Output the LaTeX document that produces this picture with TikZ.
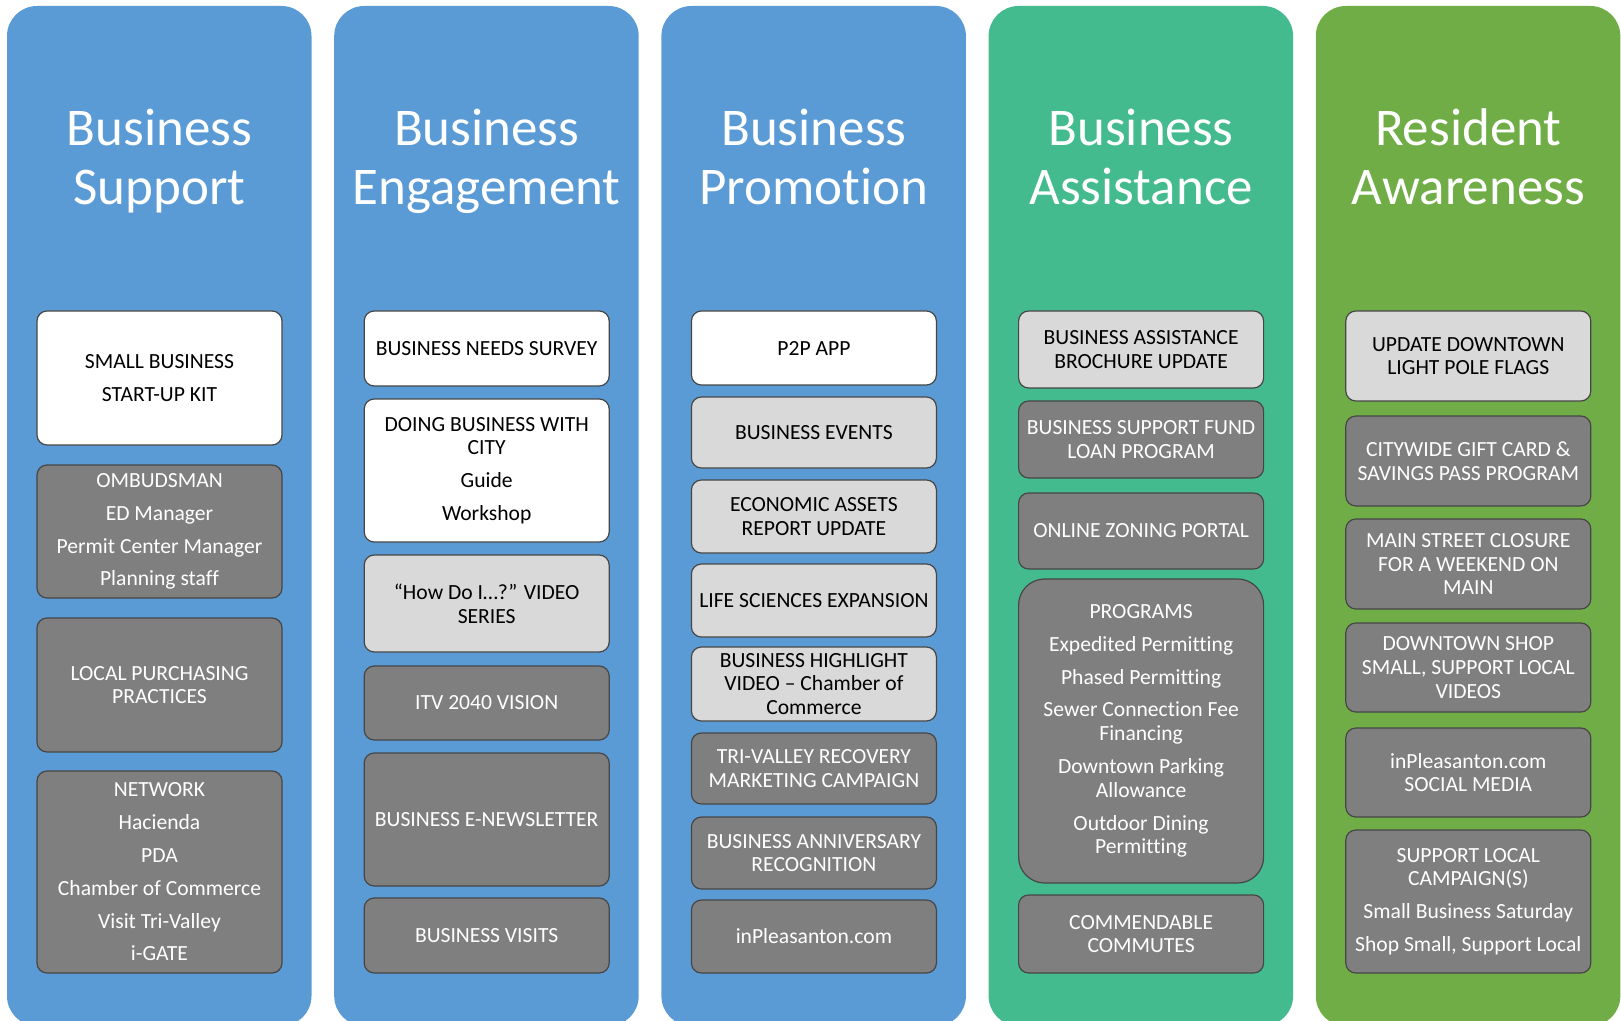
\documentclass[tikz,border=0pt]{standalone}
\usepackage{fontspec}
\setmainfont{Carlito}[Ligatures={NoCommon}]

\definecolor{panelblue}{RGB}{91,155,213}
\definecolor{panelteal}{RGB}{68,187,142}
\definecolor{panelgreen}{RGB}{112,173,71}
\definecolor{boxdark}{RGB}{127,127,127}
\definecolor{boxlight}{RGB}{217,217,217}
\definecolor{boxline}{RGB}{70,70,70}

\tikzset{every node/.style={font=\fontsize{10.8}{11.9}\selectfont,align=center,inner sep=0pt},
  panel/.style={rounded corners=15pt},
  heading/.style={text=white,font=\fontsize{26.5}{29.5}\selectfont},
  itembox/.style={draw=boxline,line width=0.6pt,rounded corners=5pt,minimum width=122.5pt},
  whitebox/.style={itembox,fill=white,text=black},
  lightbox/.style={itembox,fill=boxlight,text=black},
  darkbox/.style={itembox,fill=boxdark,text=white},
  roundbox/.style={darkbox,rounded corners=13pt}}

\begin{document}
\begin{tikzpicture}[x=0.5pt,y=-0.5pt]
    \useasboundingbox (0,0) rectangle (1621,1021);
    \clip (0,0) rectangle (1621,1021);
    % five columns
    \foreach \c/\col/\wa/\wb in {1/panelblue/Business/Support,2/panelblue/Business/Engagement,
        3/panelblue/Business/Promotion,4/panelteal/Business/Assistance,5/panelgreen/Resident/Awareness}{
    	     \fill[\col,panel] ({7+327.2*(\c-1)},6) rectangle +(304.5,1020);
    	     \node[heading] (head\c) at ({159.5+327.2*(\c-1)},163) {\strut\wa\\\wb\strut};
    }
    % Business Support
    \foreach \n/\ya/\yb/\kind/\txt in {1/311/445/whitebox/{SMALL BUSINESS\\[4.5pt]START-UP KIT},
        2/465/598/darkbox/{OMBUDSMAN\\[4.5pt]ED Manager\\[4.5pt]Permit Center Manager\\[4.5pt]Planning staff},
        3/618/752/darkbox/{LOCAL PURCHASING\\PRACTICES},
        4/771/973/darkbox/{NETWORK\\[4.5pt]Hacienda\\[4.5pt]PDA\\[4.5pt]Chamber of Commerce\\[4.5pt]Visit Tri-Valley\\[4.5pt]i-GATE}}{
    	     \node[\kind,minimum height={(\yb-\ya)*0.5pt}] (sup\n) at (159.5,{(\ya+\yb)/2}) {\txt};
    }
    % Business Engagement
    \foreach \n/\ya/\yb/\kind/\txt in {1/311/386/whitebox/{BUSINESS NEEDS SURVEY},
        2/399/542/whitebox/{DOING BUSINESS WITH\\CITY\\[4.5pt]Guide\\[4.5pt]Workshop},
        3/555/652/lightbox/{“How Do I…?” VIDEO\\SERIES},
        4/666/740/darkbox/{ITV 2040 VISION},
        5/753/886/darkbox/{BUSINESS E-NEWSLETTER},
        6/898/973/darkbox/{BUSINESS VISITS}}{
    	     \node[\kind,minimum height={(\yb-\ya)*0.5pt}] (eng\n) at (486.7,{(\ya+\yb)/2}) {\txt};
    }
    % Business Promotion
    \foreach \n/\ya/\yb/\kind/\txt in {1/311/385/whitebox/{P2P APP},
        2/397/468/lightbox/{BUSINESS EVENTS},
        3/480/553/lightbox/{ECONOMIC ASSETS\\REPORT UPDATE},
        4/564/637/lightbox/{LIFE SCIENCES EXPANSION},
        5/647/721/lightbox/{BUSINESS HIGHLIGHT\\VIDEO – Chamber of\\Commerce},
        6/733/804/darkbox/{TRI-VALLEY RECOVERY\\MARKETING CAMPAIGN},
        7/817/889/darkbox/{BUSINESS ANNIVERSARY\\RECOGNITION},
        8/900/973/darkbox/{inPleasanton.com}}{
    	     \node[\kind,minimum height={(\yb-\ya)*0.5pt}] (pro\n) at (813.9,{(\ya+\yb)/2}) {\txt};
    }
    % Business Assistance
    \foreach \n/\ya/\yb/\kind/\txt in {1/311/388/lightbox/{BUSINESS ASSISTANCE\\BROCHURE UPDATE},
        2/401/478/darkbox/{BUSINESS SUPPORT FUND\\LOAN PROGRAM},
        3/493/569/darkbox/{ONLINE ZONING PORTAL},
        4/579/883/roundbox/{PROGRAMS\\[4.5pt]Expedited Permitting\\[4.5pt]Phased Permitting\\[4.5pt]Sewer Connection Fee\\Financing\\[4.5pt]Downtown Parking\\Allowance\\[4.5pt]Outdoor Dining\\Permitting},
        5/895/973/darkbox/{COMMENDABLE\\COMMUTES}}{
    	     \node[\kind,minimum height={(\yb-\ya)*0.5pt}] (ast\n) at (1141.1,{(\ya+\yb)/2}) {\txt};
    }
    % Resident Awareness
    \foreach \n/\ya/\yb/\kind/\txt in {1/311/401/lightbox/{UPDATE DOWNTOWN\\LIGHT POLE FLAGS},
        2/416/506/darkbox/{CITYWIDE GIFT CARD \&\\SAVINGS PASS PROGRAM},
        3/519/609/darkbox/{MAIN STREET CLOSURE\\FOR A WEEKEND ON\\MAIN},
        4/623/712/darkbox/{DOWNTOWN SHOP\\SMALL, SUPPORT LOCAL\\VIDEOS},
        5/728/817/darkbox/{inPleasanton.com\\SOCIAL MEDIA},
        6/830/973/darkbox/{SUPPORT LOCAL\\CAMPAIGN(S)\\[4.5pt]Small Business Saturday\\[4.5pt]Shop Small, Support Local}}{
    	     \node[\kind,minimum height={(\yb-\ya)*0.5pt}] (res\n) at (1468.3,{(\ya+\yb)/2}) {\txt};
    }
\end{tikzpicture}
\end{document}
